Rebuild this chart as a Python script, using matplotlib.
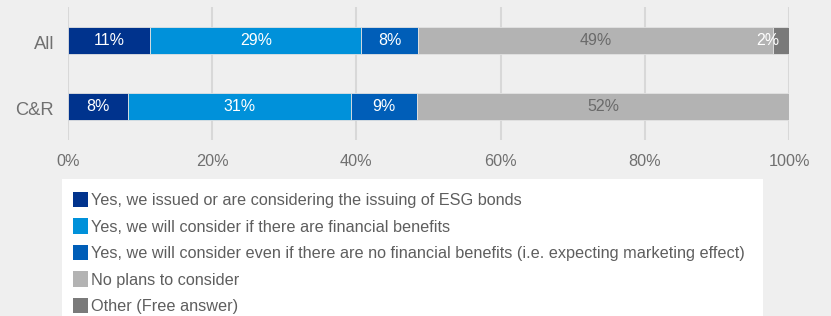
import numpy as np
import matplotlib
matplotlib.use("Agg")
from matplotlib import pyplot as plt
from matplotlib import transforms
from matplotlib.patches import Patch, Rectangle

# data (share of respondents, %)
groups = ["All", "C&R"]
answers = [
    "Yes, we issued or are considering the issuing of ESG bonds",
    "Yes, we will consider if there are financial benefits",
    "Yes, we will consider even if there are no financial benefits (i.e. expecting marketing effect)",
    "No plans to consider",
    "Other (Free answer)",
]
all_vals = [11.4, 29.3, 7.8, 49.3, 2.2]
cr_vals = [8.3, 31.0, 9.1, 51.6, 0.0]
all_labels = ["11%", "29%", "8%", "49%", "2%"]
cr_labels = ["8%", "31%", "9%", "52%", ""]
xticks = [0, 20, 40, 60, 80, 100]

colors = ["#00338D", "#0091DA", "#005EB8", "#B3B3B3", "#7A7A7A"]
label_colors = ["white", "white", "white", "#6A6A6A", "white"]
bg = "#EFEFEF"
txt = "#707070"
num_font = ["Liberation Sans", "DejaVu Sans"]

plt.rcParams["font.family"] = ["Liberation Sans Narrow", "Liberation Sans", "DejaVu Sans"]

fig = plt.figure(figsize=(8.31, 3.16), dpi=100, facecolor=bg)
ax = fig.add_axes([68 / 831, 1 - 140 / 316, 721 / 831, 133 / 316])
ax.set_facecolor(bg)

data = np.array([all_vals, cr_vals])
labels = [all_labels, cr_labels]
y = np.arange(len(groups))
left = np.zeros(len(groups))
for i in range(len(answers)):
    ax.barh(y, data[:, i], left=left, height=0.40, color=colors[i],
            edgecolor="#E2E2E2", linewidth=0.6, zorder=3)
    for j in range(len(groups)):
        if labels[j][i] == "":
            continue
        if i == len(answers) - 1:
            # small segment: label sits right-aligned, spilling left
            ax.text(left[j] + data[j, i] - 1.4, y[j], labels[j][i], ha="right", va="center",
                    color=label_colors[i], fontsize=11.5, family=num_font, zorder=4)
        else:
            ax.text(left[j] + data[j, i] / 2, y[j], labels[j][i], ha="center", va="center",
                    color=label_colors[i], fontsize=11.5, family=num_font, zorder=4)
    left += data[:, i]

ax.set_xlim(0, 100)
ax.set_ylim(1.5, -0.5)
ax.set_xticks(xticks)
ax.set_xticklabels([f"{t}%" for t in xticks], color=txt, fontsize=11.7, family=num_font)
ax.set_yticks(y)
ax.set_yticklabels(groups, color=txt, fontsize=13.2, family=num_font)
ax.tick_params(length=0)
ax.tick_params(axis="x", pad=10)
ax.tick_params(axis="y", pad=10)
shift = transforms.ScaledTranslation(0, -2 / 100, fig.dpi_scale_trans)
for lab in ax.get_yticklabels():
    lab.set_transform(lab.get_transform() + shift)
ax.grid(axis="x", color="#D8D8D8", linewidth=1.5, zorder=0)
for s in ax.spines.values():
    s.set_visible(False)

# white legend panel
fig.patches.append(Rectangle((62 / 831, 0), (763 - 62) / 831, 1 - 179 / 316,
                             transform=fig.transFigure, facecolor="white",
                             edgecolor="none", zorder=0))
handles = [Patch(facecolor=c, edgecolor="none") for c in colors]
fig.legend(handles, answers, loc="upper left", bbox_to_anchor=(73 / 831, 1 - 192 / 316),
           frameon=False, fontsize=11.7, labelcolor="#5E5E5E", borderpad=0, borderaxespad=0,
           handlelength=0.95, handleheight=1.05, handletextpad=0.18, labelspacing=0.64)

fig.savefig("out.png", dpi=100, facecolor=bg)
